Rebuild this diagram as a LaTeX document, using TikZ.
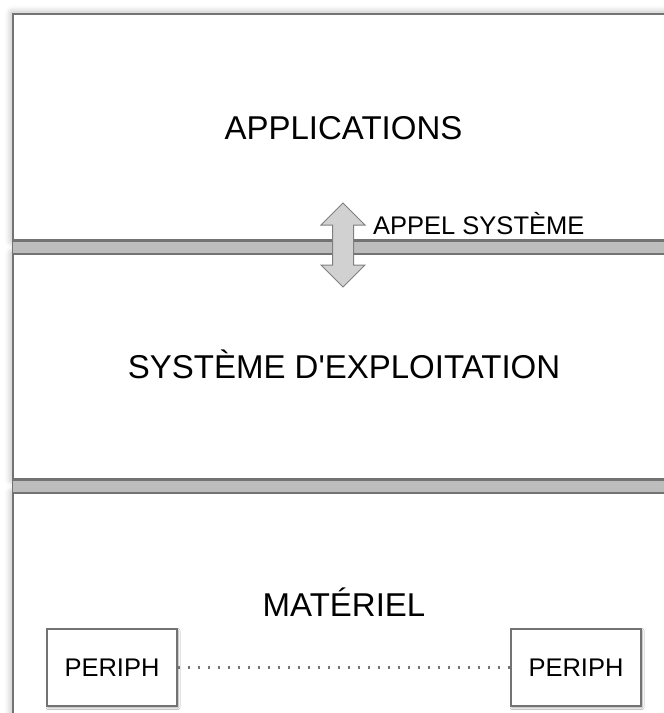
\documentclass[tikz,border=0pt]{standalone}
\usepackage{fontspec}
\setmainfont{Liberation Sans}
\usetikzlibrary{shadows.blur}

\tikzset{
    layer/.style={rectangle, draw=black!55, line width=1.5pt, fill=white, inner sep=0pt,
        blur shadow={shadow xshift=0pt, shadow yshift=0pt, shadow blur radius=8pt, shadow opacity=40}},
    band/.style={draw=black!55, line width=1.5pt, fill=black!26},
    bigtext/.style={inner sep=0pt, anchor=base, font=\fontsize{33}{40}\selectfont},
    smalltext/.style={inner sep=0pt, font=\fontsize{25.5}{30}\selectfont},
    periph/.style={rectangle, draw=black!55, line width=1.2pt, fill=white, inner sep=0pt,
        minimum width=130pt, minimum height=77pt, smalltext,
        blur shadow={shadow xshift=1pt, shadow yshift=-1.5pt, shadow blur radius=2pt, shadow opacity=40}},
    callarrow/.style={draw=black!50, line width=1pt, fill=black!18, line join=miter},
    link/.style={draw=black!55, line width=2.2pt, dash pattern=on 2.2pt off 7.8pt}
}

\begin{document}
\begin{tikzpicture}[x=1pt, y=-1pt]
        \useasboundingbox (0,0) rectangle (664,713);
        \node[layer, minimum width=677pt, minimum height=226pt] (app) at (351.5,127) {};
        \node[layer, minimum width=677pt, minimum height=225pt] (os) at (351.5,366.5) {};
        \node[layer, minimum width=677pt, minimum height=237pt] (hw) at (351.5,611.5) {};
        \path[band] (app.south west) rectangle (os.north east);
        \path[band] (os.south west) rectangle (hw.north east);
        \path[callarrow] (343,203) -- (365,225) -- (353.5,225) -- (353.5,265) -- (365,265)
            -- (343,287) -- (321,265) -- (332.5,265) -- (332.5,225) -- (321,225) -- cycle;
        \node[bigtext] (apptext) at (343.5,139) {APPLICATIONS};
        \node[smalltext, anchor=base west] (calltext) at (373,234) {APPEL SYSTÈME};
        \node[bigtext] (ostext) at (344,378) {SYSTÈME D\textquotesingle EXPLOITATION};
        \node[bigtext] (hwtext) at (344,616) {MATÉRIEL};
        \node[periph] (p1) at (112,667.5) {PERIPH};
        \node[periph] (p2) at (576,667.5) {PERIPH};
        \draw[link] (p1) -- (p2);
    \end{tikzpicture}
\end{document}
